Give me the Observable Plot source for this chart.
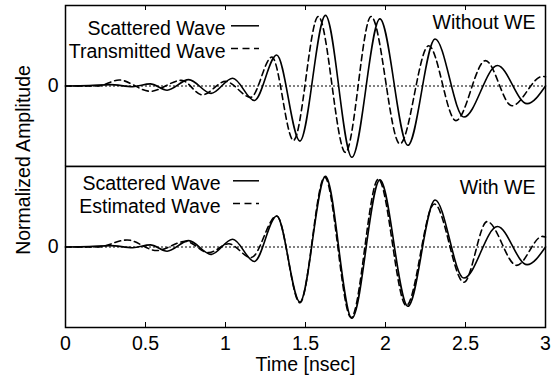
<!DOCTYPE html>
<html>
<head>
<meta charset="utf-8">
<script src="https://cdn.jsdelivr.net/npm/d3@7"></script>
<script src="https://cdn.jsdelivr.net/npm/@observablehq/plot@0.6"></script>
<style>
  html, body { margin: 0; padding: 0; background: white; }
  #chart { position: relative; width: 557px; height: 376px; font-family: "Liberation Sans", Arial, Helvetica, sans-serif; }
  #chart svg { position: absolute; left: 0; display: block; z-index: 1; }
  #ylabel { position: absolute; left: 24px; top: 160px; transform: translate(-50%, -50%) rotate(-90deg);
            white-space: nowrap; font-size: 19.5px; color: black; line-height: 1; z-index: 5; }
</style>
</head>
<body>
<div id="chart"><div id="ylabel"></div></div>
<script>
// ---------- data ----------
const scatteredT = [0, 0.15, 0.28, 0.42, 0.53, 0.635, 0.77, 0.91, 1.045, 1.18, 1.32, 1.465, 1.625, 1.79, 1.965, 2.14, 2.31, 2.49, 2.70, 2.885, 3.0];
const scatteredV = [0, 0.005, 0.02, -0.01, 0.03, -0.06, 0.09, -0.105, 0.11, -0.205, 0.44, -0.78, 1.0, -1.01, 0.95, -0.84, 0.665, -0.44, 0.29, -0.25, 0.0];

const transmittedT = [0, 0.2, 0.335, 0.53, 0.725, 0.855, 1.0, 1.158, 1.29, 1.425, 1.58, 1.75, 1.91, 2.09, 2.27, 2.44, 2.625, 2.79, 2.98, 3.0];
const transmittedV = [0, 0.0, 0.085, -0.075, 0.08, -0.125, 0.065, -0.16, 0.41, -0.77, 0.985, -0.94, 0.985, -0.82, 0.57, -0.49, 0.36, -0.28, 0.135, 0.13];

const estimatedT = [0, 0.2, 0.385, 0.57, 0.75, 0.896, 1.02, 1.16, 1.32, 1.465, 1.62, 1.785, 1.955, 2.13, 2.305, 2.49, 2.635, 2.82, 2.98, 3.0];
const estimatedV = [0, 0.0, 0.10, -0.05, 0.08, -0.08, 0.045, -0.15, 0.44, -0.79, 0.99, -1.0, 0.96, -0.83, 0.61, -0.50, 0.36, -0.26, 0.15, 0.14];

const xTickValues = [0, 0.5, 1, 1.5, 2, 2.5, 3];
const xTickLabels = ["0", "0.5", "1", "1.5", "2", "2.5", "3"];
const yTickValues = [0];
const yTickLabels = ["0"];

const panelLabels = ["Without WE", "With WE"];
const topLegend = ["Scattered Wave", "Transmitted Wave"];
const bottomLegend = ["Scattered Wave", "Estimated Wave"];
const xTitle = "Time [nsec]";
const yTitle = "Normalized Amplitude";

// ---------- helpers ----------
const toRows = (T, V) => T.map((t, i) => ({t, v: V[i]}));
const scattered = toRows(scatteredT, scatteredV);
const transmitted = toRows(transmittedT, transmittedV);
const estimated = toRows(estimatedT, estimatedV);

const FONT = '"Liberation Sans", Arial, Helvetica, sans-serif';
const FS = 19.5;
const W = 557;
const ML = 65, MR = 12;
const YDOM = [-1.14, 1.14];
const innerTicks = xTickValues.filter(d => d > 0 && d < 3);

function swatches(offsetX, len, firstBaseline, gap, dashes) {
  return (index, scales, values, dims) => {
    const g = d3.create("svg:g").attr("stroke", "black").attr("stroke-width", 1.5).attr("fill", "none");
    dashes.forEach((dash, i) => {
      const y = firstBaseline + i * gap - 6.5;
      g.append("line")
        .attr("x1", dims.marginLeft + offsetX).attr("x2", dims.marginLeft + offsetX + len)
        .attr("y1", y).attr("y2", y)
        .attr("stroke-dasharray", dash);
    });
    return g.node();
  };
}

function panel({height, marginTop, marginBottom, series, legend, legendDx, swatchDx, legendBaseline, label, labelBaseline, bottom}) {
  const frameH = height - marginTop - marginBottom;
  const marks = [
    Plot.ruleY([0], {stroke: "black", strokeWidth: 1, strokeDasharray: "2,2"}),
    Plot.line(series[0], {x: "t", y: "v", curve: "monotone-x", stroke: "black", strokeWidth: 1.6}),
    Plot.line(series[1], {x: "t", y: "v", curve: "monotone-x", stroke: "black", strokeWidth: 1.6, strokeDasharray: "6,4"}),
    Plot.tickX(innerTicks, bottom
      ? {x: d => d, insetTop: frameH - 5, stroke: "black", strokeWidth: 1}
      : {x: d => d, insetBottom: frameH - 5, stroke: "black", strokeWidth: 1}),
    Plot.axisY({ticks: yTickValues, tickFormat: (d, i) => yTickLabels[i], tickSize: 0, tickPadding: 7, fontSize: FS, label: null}),
    Plot.text([legend.join("\n")], {text: d => d, frameAnchor: "top-left", textAnchor: "end", lineAnchor: "top",
      lineHeight: 22.7 / FS, dx: legendDx, dy: legendBaseline - 0.71 * FS, fontSize: FS, fill: "black"}),
    swatches(swatchDx, 194 - swatchDx, marginTop + legendBaseline, 22.7, ["none", "7,4.5"]),
    Plot.text([label], {text: d => d, frameAnchor: "top-right", textAnchor: "end", lineAnchor: "top",
      dx: -10, dy: labelBaseline - 0.71 * FS, fontSize: FS, fill: "black"}),
    Plot.frame({stroke: "black", strokeWidth: 1.5})
  ];
  if (bottom) {
    marks.push(Plot.axisX({ticks: xTickValues, tickFormat: (d, i) => xTickLabels[i], tickSize: 0, tickPadding: 8.5, fontSize: FS, label: null}));
    marks.push(Plot.text([xTitle], {text: d => d, frameAnchor: "bottom", lineAnchor: "bottom", dy: 43, fontSize: FS, fill: "black"}));
  } else {
    marks.push(Plot.axisX({ticks: [], label: null}));
  }
  return Plot.plot({
    width: W, height, marginLeft: ML, marginRight: MR, marginTop, marginBottom,
    style: {fontFamily: FONT, fontSize: FS + "px", background: "white", color: "black", overflow: "visible"},
    x: {domain: [0, 3]},
    y: {domain: YDOM},
    marks
  });
}

const topPanel = panel({height: 166, marginTop: 5, marginBottom: 0, series: [scattered, transmitted], legend: topLegend,
  legendDx: 160, swatchDx: 166, legendBaseline: 27.3, label: panelLabels[0], labelBaseline: 23.3, bottom: false});
const bottomPanel = panel({height: 210, marginTop: 0, marginBottom: 49, series: [scattered, estimated], legend: bottomLegend,
  legendDx: 155, swatchDx: 168, legendBaseline: 21.3, label: panelLabels[1], labelBaseline: 27.3, bottom: true});

const chartEl = document.getElementById("chart");
topPanel.style.top = "0px";
bottomPanel.style.top = "166px";
chartEl.appendChild(topPanel);
chartEl.appendChild(bottomPanel);
document.getElementById("ylabel").textContent = yTitle;
</script>
</body>
</html>
